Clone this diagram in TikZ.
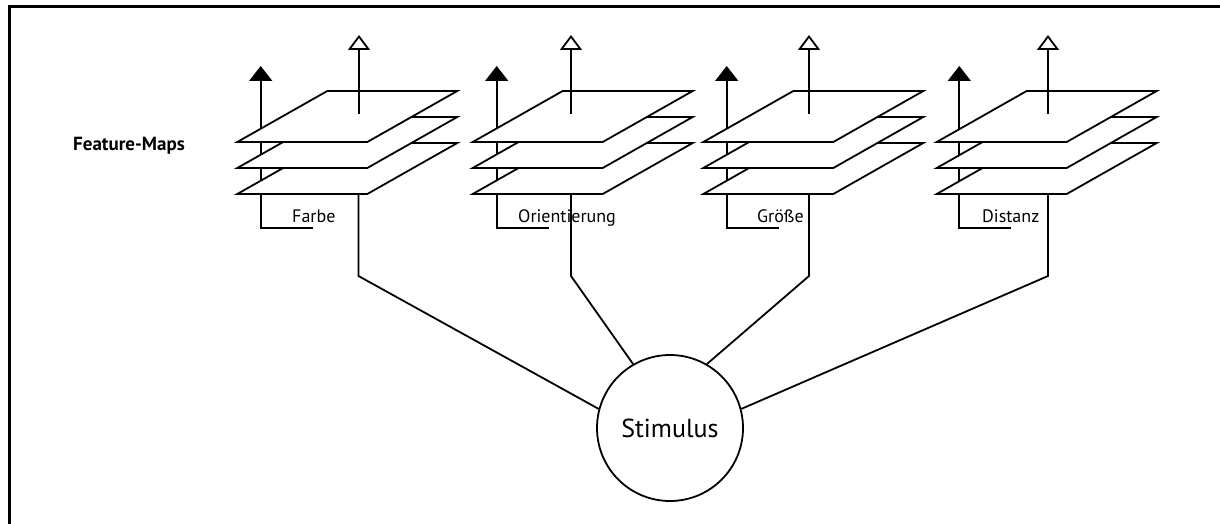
\documentclass[tikz,border=0pt]{standalone}
\usepackage{fontspec}
\setmainfont{PT Sans}
\usetikzlibrary{arrows.meta}
\tikzset{
  wire/.style = {line width=1.8pt},
  plane/.style = {wire, draw, fill=white},
  upfull/.style = {wire, -{Triangle[width=23pt,length=15pt]}},
  upopen/.style = {wire, -{Triangle[open,width=22pt,length=15pt,fill=white]}},
  maplabel/.style = {anchor=base west, inner sep=0pt,
                     font=\fontsize{18}{20}\selectfont}
}

\begin{document}
\begin{tikzpicture}[x=1pt,y=-1pt]
	\def \w{130}   % plane width
	\def \sx{90}   % slant
	\def \sy{51}
	\def \yb{194}  % lowest plane
	\def \yk{276}  % kink of the wires
	\useasboundingbox (0,0) rectangle (1220,524);

	% Frame
	\draw[line width=3pt] (9,524) -- (9,7) -- (1220,7);

	% Title
	\node[anchor=base west, inner sep=0pt, font=\bfseries\fontsize{19}{21}\selectfont] (title) at (73,150.7) {Feature-Maps};

	% Stimulus
	\node[circle, draw, wire, minimum size=146pt, inner sep=0pt,
	      font=\fontsize{26}{28}\selectfont] (stim) at (670,428) {\raisebox{-3pt}{Stimulus}};

	% Farbe
	\draw[upfull] (312.7,228) -- (260.7,228) -- (260.7,66);
	\filldraw[plane] (237.3,\yb)    -- ++(\w,0) -- ++(\sx,-\sy) -- ++(-\w,0) -- cycle;
	\filldraw[plane] (237.3,\yb-26) -- ++(\w,0) -- ++(\sx,-\sy) -- ++(-\w,0) -- cycle;
	\filldraw[plane] (237.3,\yb-52) -- ++(\w,0) -- ++(\sx,-\sy) -- ++(-\w,0) -- cycle;
	\draw[upopen] (359,114) -- (359,35);
	\node[maplabel] (farbe) at (292,222.7) {Farbe};

	% Orientierung
	\draw[upfull] (548.7,228) -- (496.7,228) -- (496.7,66);
	\filldraw[plane] (472.7,\yb)    -- ++(\w,0) -- ++(\sx,-\sy) -- ++(-\w,0) -- cycle;
	\filldraw[plane] (472.7,\yb-26) -- ++(\w,0) -- ++(\sx,-\sy) -- ++(-\w,0) -- cycle;
	\filldraw[plane] (472.7,\yb-52) -- ++(\w,0) -- ++(\sx,-\sy) -- ++(-\w,0) -- cycle;
	\draw[upopen] (571,114) -- (571,35);
	\node[maplabel] (orient) at (518,222.7) {Orientierung};

	% Groesse
	\draw[upfull] (778.7,228) -- (726.7,228) -- (726.7,66);
	\filldraw[plane] (703.3,\yb)    -- ++(\w,0) -- ++(\sx,-\sy) -- ++(-\w,0) -- cycle;
	\filldraw[plane] (703.3,\yb-26) -- ++(\w,0) -- ++(\sx,-\sy) -- ++(-\w,0) -- cycle;
	\filldraw[plane] (703.3,\yb-52) -- ++(\w,0) -- ++(\sx,-\sy) -- ++(-\w,0) -- cycle;
	\draw[upopen] (809,114) -- (809,35);
	\node[maplabel] (groesse) at (757,222.7) {Größe};

	% Distanz
	\draw[upfull] (1011.3,228) -- (959.3,228) -- (959.3,66);
	\filldraw[plane] (936.7,\yb)    -- ++(\w,0) -- ++(\sx,-\sy) -- ++(-\w,0) -- cycle;
	\filldraw[plane] (936.7,\yb-26) -- ++(\w,0) -- ++(\sx,-\sy) -- ++(-\w,0) -- cycle;
	\filldraw[plane] (936.7,\yb-52) -- ++(\w,0) -- ++(\sx,-\sy) -- ++(-\w,0) -- cycle;
	\draw[upopen] (1048,114) -- (1048,35);
	\node[maplabel] (distanz) at (982,222.7) {Distanz};

	% Wires to the stimulus
	\coordinate (f0) at (358.5,\yb);  \coordinate (f1) at (358.5,\yk);
	\coordinate (o0) at (571,\yb);    \coordinate (o1) at (571,\yk);
	\coordinate (g0) at (809,\yb);    \coordinate (g1) at (809,\yk);
	\coordinate (d0) at (1048,\yb);   \coordinate (d1) at (1048,\yk);
	\draw[wire] (f0) -- (f1) -- (stim.165);
	\draw[wire] (o0) -- (o1) -- (stim.120);
	\draw[wire] (g0) -- (g1) -- (stim.60);
	\draw[wire] (d0) -- (d1) -- (stim.15);

\end{tikzpicture}
\end{document}
